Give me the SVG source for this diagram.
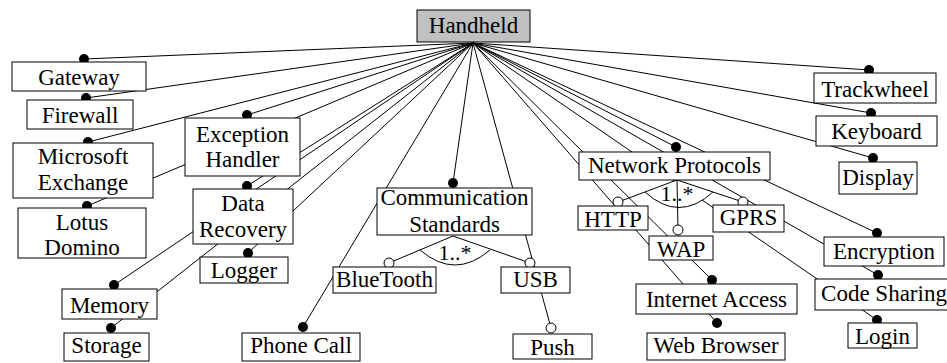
<svg xmlns="http://www.w3.org/2000/svg" width="947" height="363" viewBox="0 0 947 363">
  <style>
    .box { fill: #ffffff; stroke: #000000; stroke-width: 1; }
    .root { fill: #c0c0c0; }
    .lbl { font-size: 23px; text-anchor: middle; fill: #000000; }
    .card { font-size: 22px; text-anchor: middle; fill: #000000; }
    .edge { stroke: #000000; stroke-width: 1; fill: none; }
    .sector { fill: #ffffff; stroke: none; }
    .mand { fill: #000000; }
    .opt { fill: #ffffff; stroke: #000000; stroke-width: 1; }
  </style>

  <g font-family="'Liberation Serif', 'DejaVu Serif', serif">
  <!-- connectors: every feature hangs from the root anchor at (473,43) -->
  <g id="connectors">
    <g class="edge">
      <line x1="473" y1="43" x2="84" y2="59"/>
      <line x1="473" y1="43" x2="86" y2="98"/>
      <line x1="473" y1="43" x2="88" y2="142"/>
      <line x1="473" y1="43" x2="87" y2="206"/>
      <line x1="473" y1="43" x2="247" y2="115"/>
      <line x1="473" y1="43" x2="247" y2="186"/>
      <line x1="473" y1="43" x2="248" y2="253"/>
      <line x1="473" y1="43" x2="114" y2="285"/>
      <line x1="473" y1="43" x2="111" y2="328"/>
      <line x1="473" y1="43" x2="303" y2="327"/>
      <line x1="473" y1="43" x2="453" y2="183"/>
      <line x1="473" y1="43" x2="551" y2="328"/>
      <line x1="473" y1="43" x2="676" y2="147"/>
      <line x1="473" y1="43" x2="712" y2="280"/>
      <line x1="473" y1="43" x2="717" y2="323"/>
      <line x1="473" y1="43" x2="869" y2="70"/>
      <line x1="473" y1="43" x2="871" y2="113"/>
      <line x1="473" y1="43" x2="873" y2="158"/>
      <line x1="473" y1="43" x2="877" y2="233"/>
      <line x1="473" y1="43" x2="878" y2="275"/>
      <line x1="473" y1="43" x2="877" y2="320"/>
    </g>

    <!-- or-group under Communication Standards -->
    <path class="sector" d="M453,236 L420,250 Q455,280 490,250 Z"/>
    <g class="edge">
      <line x1="453" y1="236" x2="389" y2="263"/>
      <line x1="453" y1="236" x2="530" y2="263"/>
      <path d="M420,250 Q455,280 490,250"/>
    </g>
    <text class="card" x="455" y="260">1..*</text>

    <!-- or-group under Network Protocols -->
    <path class="sector" d="M677,180 L645,192 Q679,223 713,192 Z"/>
    <g class="edge">
      <line x1="677" y1="180" x2="618" y2="202"/>
      <line x1="677" y1="180" x2="678" y2="230"/>
      <line x1="677" y1="180" x2="743" y2="202"/>
      <path d="M645,192 Q679,223 713,192"/>
    </g>
    <text class="card" x="677" y="201">1..*</text>

    <!-- mandatory markers -->
    <g class="mand">
      <circle cx="84" cy="59" r="5"/>
      <circle cx="86" cy="98" r="5"/>
      <circle cx="88" cy="142" r="5"/>
      <circle cx="87" cy="206" r="5"/>
      <circle cx="247" cy="115" r="5"/>
      <circle cx="247" cy="186" r="5"/>
      <circle cx="248" cy="253" r="5"/>
      <circle cx="114" cy="285" r="5"/>
      <circle cx="111" cy="328" r="5"/>
      <circle cx="303" cy="327" r="5"/>
      <circle cx="453" cy="183" r="5"/>
      <circle cx="676" cy="147" r="5"/>
      <circle cx="712" cy="280" r="5"/>
      <circle cx="717" cy="323" r="5"/>
      <circle cx="869" cy="70" r="5"/>
      <circle cx="871" cy="113" r="5"/>
      <circle cx="873" cy="158" r="5"/>
      <circle cx="877" cy="233" r="5"/>
      <circle cx="878" cy="275" r="5"/>
      <circle cx="877" cy="320" r="5"/>
    </g>
    <!-- optional / grouped markers -->
    <g class="opt">
      <circle cx="389" cy="263" r="5"/>
      <circle cx="530" cy="263" r="5"/>
      <circle cx="551" cy="328" r="5"/>
      <circle cx="618" cy="202" r="5"/>
      <circle cx="678" cy="230" r="5"/>
      <circle cx="743" cy="202" r="5"/>
    </g>
  </g>

  <!-- feature nodes -->
  <g id="handheld"><rect class="box root" x="417" y="10" width="113" height="32"/><text class="lbl" x="473.5" y="33">Handheld</text></g>
  <g id="gateway"><rect class="box" x="12" y="62" width="134" height="29"/><text class="lbl" x="79" y="85">Gateway</text></g>
  <g id="firewall"><rect class="box" x="27" y="100" width="106" height="29"/><text class="lbl" x="80" y="123">Firewall</text></g>
  <g id="exception-handler"><rect class="box" x="185" y="118" width="115" height="58"/><text class="lbl" x="242.5" y="142">Exception</text><text class="lbl" x="242.5" y="167">Handler</text></g>
  <g id="microsoft-exchange"><rect class="box" x="13" y="143" width="140" height="55"/><text class="lbl" x="83" y="164">Microsoft</text><text class="lbl" x="83" y="190">Exchange</text></g>
  <g id="lotus-domino"><rect class="box" x="18" y="208" width="128" height="50"/><text class="lbl" x="82" y="230">Lotus</text><text class="lbl" x="82" y="255">Domino</text></g>
  <g id="data-recovery"><rect class="box" x="193" y="189" width="100" height="55"/><text class="lbl" x="243" y="211">Data</text><text class="lbl" x="243" y="237">Recovery</text></g>
  <g id="logger"><rect class="box" x="200" y="257" width="88" height="26"/><text class="lbl" x="244" y="278">Logger</text></g>
  <g id="memory"><rect class="box" x="62" y="289" width="95" height="30"/><text class="lbl" x="109.5" y="313">Memory</text></g>
  <g id="storage"><rect class="box" x="64" y="333" width="85" height="28"/><text class="lbl" x="106.5" y="353">Storage</text></g>
  <g id="phone-call"><rect class="box" x="242" y="333" width="118" height="28"/><text class="lbl" x="301" y="353">Phone Call</text></g>
  <g id="communication-standards"><rect class="box" x="377" y="188" width="155" height="47"/><text class="lbl" x="454.5" y="205">Communication</text><text class="lbl" x="454.5" y="232">Standards</text></g>
  <g id="bluetooth"><rect class="box" x="333" y="267" width="103" height="26"/><text class="lbl" x="384.5" y="287">BlueTooth</text></g>
  <g id="usb"><rect class="box" x="501" y="267" width="69" height="26"/><text class="lbl" x="535.5" y="287">USB</text></g>
  <g id="push"><rect class="box" x="513" y="334" width="79" height="25"/><text class="lbl" x="552.5" y="355">Push</text></g>
  <g id="network-protocols"><rect class="box" x="579" y="152" width="191" height="28"/><text class="lbl" x="674.5" y="173">Network Protocols</text></g>
  <g id="http"><rect class="box" x="578" y="206" width="70" height="24"/><text class="lbl" x="613" y="227">HTTP</text></g>
  <g id="wap"><rect class="box" x="649" y="236" width="64" height="24"/><text class="lbl" x="681" y="257">WAP</text></g>
  <g id="gprs"><rect class="box" x="713" y="205" width="71" height="27"/><text class="lbl" x="748.5" y="225">GPRS</text></g>
  <g id="internet-access"><rect class="box" x="636" y="284" width="161" height="30"/><text class="lbl" x="716.5" y="307">Internet Access</text></g>
  <g id="web-browser"><rect class="box" x="647" y="333" width="138" height="27"/><text class="lbl" x="716" y="353">Web Browser</text></g>
  <g id="trackwheel"><rect class="box" x="814" y="73" width="122" height="30"/><text class="lbl" x="875" y="97">Trackwheel</text></g>
  <g id="keyboard"><rect class="box" x="816" y="116" width="121" height="30"/><text class="lbl" x="876.5" y="139">Keyboard</text></g>
  <g id="display"><rect class="box" x="839" y="162" width="78" height="32"/><text class="lbl" x="878" y="185">Display</text></g>
  <g id="encryption"><rect class="box" x="824" y="237" width="120" height="29"/><text class="lbl" x="884" y="259">Encryption</text></g>
  <g id="code-sharing"><rect class="box" x="815" y="279" width="140" height="31"/><text class="lbl" x="884" y="301">Code Sharing</text></g>
  <g id="login"><rect class="box" x="848" y="323" width="69" height="25"/><text class="lbl" x="882.5" y="344">Login</text></g>
  </g>
</svg>
